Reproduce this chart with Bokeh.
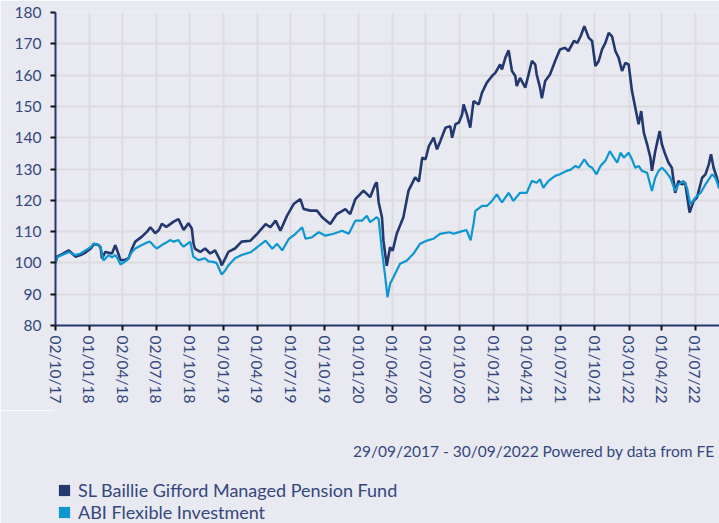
import numpy as np
from datetime import datetime, timedelta
from bokeh.plotting import figure
from bokeh.layouts import column
from bokeh.models import (FixedTicker, DatetimeTickFormatter, Legend, LegendItem,
                          Label, Range1d)
from bokeh.embed import file_html
from bokeh.resources import INLINE

# ---------------- data ----------------
START = "2017-10-02"

fund_name = "SL Baillie Gifford Managed Pension Fund"
sector_name = "ABI Flexible Investment"
footer_text = "29/09/2017 - 30/09/2022 Powered by data from FE"

# days after START, value (rebased to 100)
fund_day = [0, 4, 18, 36, 45, 54, 68, 81, 95, 104, 115, 122, 126, 135, 153, 162, 170, 176,
            189, 198, 207, 216, 234, 248, 257, 270, 280, 288, 300, 306, 320, 333, 347, 360,
            369, 374, 378, 392, 405, 419, 432, 446, 450, 460, 468, 486, 504,
            528, 546, 569, 582, 596, 609, 627, 645, 663, 672, 690, 708, 722, 744, 762,
            785, 798, 812, 834, 852, 866, 870, 875, 884, 888, 897, 906, 913, 924, 942,
            956, 974, 984, 993, 1002, 1011, 1024, 1033, 1042, 1056, 1069, 1074, 1083,
            1092, 1101, 1105, 1114, 1123, 1132, 1146, 1155, 1168, 1182, 1191, 1204,
            1209, 1218, 1227, 1236, 1245, 1249, 1258, 1272, 1281, 1290, 1299, 1303,
            1312, 1317, 1326, 1339, 1353, 1366, 1380, 1389,
            1404, 1413, 1422, 1432, 1444, 1453, 1462, 1471, 1480, 1489, 1498, 1507,
            1516, 1525, 1534, 1543, 1552, 1561, 1570, 1579, 1586, 1593, 1602, 1611,
            1615, 1624, 1636, 1642, 1651, 1660, 1669, 1678, 1687, 1696, 1705, 1717,
            1728, 1737, 1751, 1760, 1769, 1775, 1782, 1791, 1797, 1810, 1824]
fund_val = [100.0, 102.0, 102.8, 104.0, 103.0, 102.0, 102.5, 103.3, 104.5, 106.0, 105.8,
            105.0, 101.4, 103.5, 103.0, 105.7, 103.0, 100.9, 101.0, 101.5, 104.5, 106.8,
            108.4, 110.0, 111.4, 109.5, 110.5, 112.5, 111.5, 112.0, 113.2, 114.0, 110.5,
            112.7, 111.0, 106.0, 104.5, 103.5, 104.6, 103.0, 104.0, 100.8, 99.2, 101.5,
            103.5, 104.6, 106.8,
            107.1, 109.3, 112.4, 111.4, 113.5, 110.3, 115.1, 118.8, 120.4, 117.2, 116.7,
            116.7, 114.6, 112.4, 115.6, 117.2, 115.6, 120.4, 123.1, 121.0, 125.2, 125.7,
            119.4, 114.6, 107.1, 99.1, 105.0, 103.9, 109.3, 114.6, 123.1, 127.3, 126.0,
            133.6, 133.1, 137.3, 140.0, 136.3, 138.9, 143.2, 143.7, 140.0, 144.3,
            144.8, 147.4, 150.6, 147.4, 143.2, 151.7, 150.6, 154.4, 157.6, 159.7, 160.7,
            163.4, 161.8, 165.5, 167.9, 161.3, 159.7, 156.5, 159.1, 156.0, 160.2, 164.5,
            163.4, 160.2, 156.0, 152.6, 158.1, 160.2, 164.5, 168.2, 168.7, 167.7,
            170.9, 170.3, 172.4, 175.6, 171.9, 170.9, 162.9, 164.5, 168.2, 170.3, 173.5,
            172.4, 167.7, 165.5, 161.3, 163.9, 163.4, 154.9, 149.6, 144.3, 148.5, 141.6,
            137.9, 133.6, 129.4, 135.7, 142.1, 137.9, 134.7, 132.0, 130.4, 122.4, 126.2,
            125.1, 125.6, 116.1, 119.8, 120.9, 127.2, 128.3, 131.5, 134.7, 130.4, 127.2,
            124.0, 125.0, 123.5]

sector_day = [0, 4, 18, 36, 54, 68, 81, 95, 104, 115, 122, 130, 144, 153, 162, 170, 176,
              185, 194, 207, 216, 234, 248, 256, 266, 274, 288, 300, 310, 320, 333, 340,
              347, 356, 365, 373, 387, 405, 414, 423, 436, 441, 450, 459, 468, 486, 504,
              528, 546, 569, 587, 600, 614, 632, 650, 668, 677, 695, 713, 731, 753, 776,
              794, 812, 830, 843, 852, 870, 875, 884, 893, 899, 906, 915, 933, 951, 969,
              987, 1005, 1023, 1041, 1066, 1078, 1097, 1113, 1124, 1132, 1137, 1155,
              1168, 1182, 1195, 1209, 1227, 1240, 1258, 1276, 1290, 1303, 1312, 1321,
              1335, 1353, 1366, 1384, 1395, 1408, 1417, 1432, 1444, 1453, 1465, 1476,
              1489, 1501, 1512, 1521, 1530, 1539, 1552, 1561, 1570, 1579, 1588, 1602,
              1615, 1624, 1633, 1642, 1651, 1665, 1678, 1687, 1701, 1710, 1719, 1733,
              1747, 1760, 1778, 1787, 1797, 1810, 1824]
sector_val = [100.0, 101.8, 102.5, 103.5, 102.5, 103.0, 104.0, 105.0, 106.2, 105.8, 105.0,
              100.8, 102.5, 101.8, 102.5, 101.0, 99.5, 100.2, 100.9, 103.5, 104.6, 105.7,
              106.5, 106.8, 105.5, 104.6, 105.7, 106.5, 107.3, 106.8, 107.3, 106.0, 105.2,
              106.0, 106.8, 102.0, 100.9, 101.5, 100.5, 100.4, 100.0, 98.7, 96.3, 97.5,
              99.2, 101.5, 102.5,
              103.4, 105.0, 107.1, 104.5, 106.1, 104.0, 107.7, 109.3, 111.4, 107.7, 108.2,
              109.8, 108.7, 109.3, 110.3, 109.3, 113.5, 113.5, 115.1, 113.0, 114.6, 114.0,
              103.9, 95.4, 89.0, 93.3, 95.4, 99.7, 100.7, 102.9, 106.1, 107.1, 107.7,
              109.3, 109.8, 109.3, 110.0, 110.5, 107.2, 112.5, 116.6, 118.2, 118.2, 119.8,
              121.9, 119.3, 122.4, 119.8, 122.4, 122.4, 126.2, 125.6, 126.7, 124.0, 126.2,
              127.8, 128.3, 129.4, 129.8, 131.0, 130.4, 133.1, 131.0, 130.4, 128.3, 131.0,
              132.6, 135.7, 133.6, 132.0, 135.2, 133.6, 135.2, 133.1, 130.4, 131.0, 129.4,
              128.8, 123.0, 127.2, 129.4, 130.4, 129.4, 127.2, 123.0, 125.1, 126.2, 124.0,
              118.7, 120.9, 122.4, 125.1, 128.3, 127.2, 124.0, 125.0, 124.0]

x_tick_dates = ["2017-10-02", "2018-01-01", "2018-04-02", "2018-07-02", "2018-10-01",
                "2019-01-01", "2019-04-01", "2019-07-01", "2019-10-01", "2020-01-01",
                "2020-04-01", "2020-07-01", "2020-10-01", "2021-01-01", "2021-04-01",
                "2021-07-01", "2021-10-01", "2022-01-03", "2022-04-01", "2022-07-01",
                "2022-09-30"]
y_ticks = [80, 90, 100, 110, 120, 130, 140, 150, 160, 170, 180]

# ---------------- styling ----------------
BG = "#e8e9f1"
NAVY = "#22386f"
LIGHT = "#0d96cf"
TEXT = "#34477d"
GRID = "#dcdce0"
FONT = "Lato"

start = np.datetime64(START)
fund_x = start + np.array(fund_day).astype("timedelta64[D]")
sector_x = start + np.array(sector_day).astype("timedelta64[D]")

def to_ms(d):
    return float((np.datetime64(d) - np.datetime64("1970-01-01")) / np.timedelta64(1, "ms"))

x0 = datetime(2017, 10, 2)
x1 = x0 + timedelta(days=1798)

p = figure(width=719, height=410, x_axis_type="datetime",
           x_range=Range1d(x0, x1), y_range=Range1d(y_ticks[0], y_ticks[-1]),
           output_backend="svg", toolbar_location=None,
           min_border_left=55, min_border_right=0, min_border_top=12,
           min_border_bottom=85)
p.background_fill_color = BG
p.border_fill_color = BG
p.outline_line_color = None

p.line(fund_x, fund_val, line_color=NAVY, line_width=2.6)
p.line(sector_x, sector_val, line_color=LIGHT, line_width=2.2)

# axes
p.xaxis.ticker = FixedTicker(ticks=[to_ms(d) for d in x_tick_dates])
fmt = "%d/%m/%y"
p.xaxis.formatter = DatetimeTickFormatter(milliseconds=fmt, seconds=fmt, minsec=fmt,
                                          minutes=fmt, hourmin=fmt, hours=fmt, days=fmt,
                                          months=fmt, years=fmt)
p.xaxis.major_label_orientation = "vertical"
p.yaxis.ticker = FixedTicker(ticks=y_ticks)
for ax in (p.xaxis, p.yaxis):
    ax.axis_line_color = NAVY
    ax.axis_line_width = 2
    ax.major_tick_line_color = "#111111"
    ax.major_tick_line_width = 2
    ax.major_tick_out = 5
    ax.major_tick_in = 0
    ax.minor_tick_line_color = None
    ax.major_label_text_color = TEXT
    ax.major_label_text_font = FONT
    ax.major_label_text_font_size = "15.5px"
p.yaxis.major_label_standoff = 9
p.xaxis.major_label_standoff = 5

p.grid.grid_line_color = GRID
p.grid.grid_line_width = 2

# ---------------- footer + legend strip (frame aligned with the chart) ----------------
p2 = figure(width=719, height=113, x_range=Range1d(0, 1), y_range=Range1d(0, 1),
            x_axis_location=None, y_axis_location=None,
            min_border_left=55, min_border_right=0, min_border_top=0, min_border_bottom=0,
            output_backend="svg", toolbar_location=None)
p2.background_fill_color = BG
p2.border_fill_color = BG
p2.outline_line_color = BG
p2.outline_line_width = 3
p2.xgrid.visible = False
p2.ygrid.visible = False

# screen units are measured from the strip's frame (left = chart's y axis)
p2.add_layout(Label(x=659, y=73, x_units="screen", y_units="screen", text=footer_text,
                    text_align="right", text_baseline="middle", text_color=TEXT,
                    text_font=FONT, text_font_size="15.5px"))

nan = np.array([np.nan])
r_fund = p2.quad(left=nan, right=nan, top=nan, bottom=nan, fill_color=NAVY, line_color=None)
r_sector = p2.quad(left=nan, right=nan, top=nan, bottom=nan, fill_color=LIGHT, line_color=None)

legend_style = dict(orientation="vertical", background_fill_alpha=0, border_line_color=None,
                    padding=0, margin=0, spacing=0, glyph_width=14, glyph_height=14,
                    label_standoff=7, label_text_font=FONT, label_text_font_size="18px",
                    label_text_color=TEXT)
p2.add_layout(Legend(items=[LegendItem(label=fund_name, renderers=[r_fund])],
                     location=(2, 22), **legend_style))
p2.add_layout(Legend(items=[LegendItem(label=sector_name, renderers=[r_sector])],
                     location=(2, 0), **legend_style))

layout = column(p, p2, spacing=0)
html = file_html(layout, INLINE)
html = html.replace("<body>", '<body style="background-color:%s;">' % BG, 1)
open("out.html", "w").write(html)
